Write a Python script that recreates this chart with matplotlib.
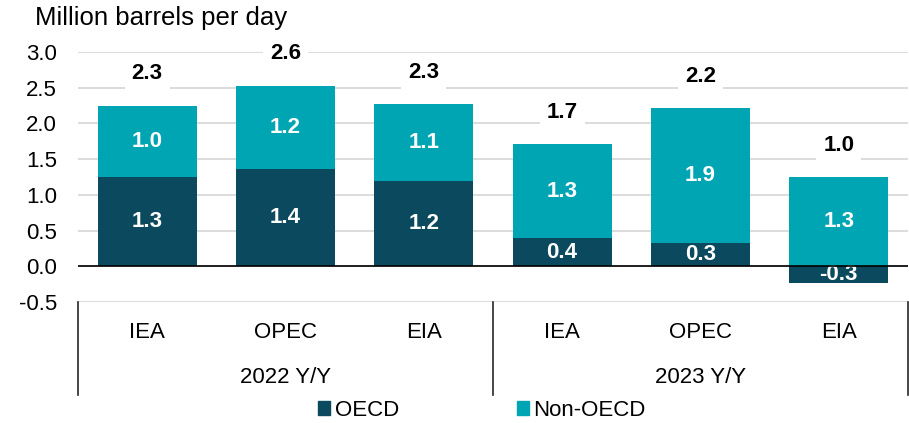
import matplotlib.pyplot as plt
from matplotlib.patches import Patch
import numpy as np

plt.rcParams['font.family'] = ['Liberation Sans', 'DejaVu Sans']

# data
sources = ['IEA', 'OPEC', 'EIA', 'IEA', 'OPEC', 'EIA']
groups = ['2022 Y/Y', '2023 Y/Y']
oecd = [1.25, 1.36, 1.19, 0.39, 0.32, -0.24]
non_oecd = [1.00, 1.17, 1.08, 1.32, 1.89, 1.25]
oecd_labels = ['1.3', '1.4', '1.2', '0.4', '0.3', '-0.3']
non_oecd_labels = ['1.0', '1.2', '1.1', '1.3', '1.9', '1.3']
total_labels = ['2.3', '2.6', '2.3', '1.7', '2.2', '1.0']

c_oecd = '#0b4a5e'
c_non = '#00a5b4'
fs = 16

fig = plt.figure(figsize=(9.09, 4.23), dpi=100)
ax = fig.add_axes([0.0858, 0.286, 0.913, 0.591])

x = np.arange(len(sources))
w = 0.715
# non-OECD stacks on top of positive OECD, starts at zero otherwise
bottoms = [max(v, 0) for v in oecd]
ax.bar(x, oecd, w, color=c_oecd, zorder=2)
ax.bar(x, non_oecd, w, bottom=bottoms, color=c_non, zorder=2)

for i in range(len(x)):
    ax.text(x[i], oecd[i] / 2, oecd_labels[i], ha='center', va='center',
            color='white', fontsize=fs, fontweight='bold', zorder=3)
    ax.text(x[i], bottoms[i] + non_oecd[i] / 2, non_oecd_labels[i], ha='center', va='center',
            color='white', fontsize=fs, fontweight='bold', zorder=3)
    top = bottoms[i] + non_oecd[i]
    ax.annotate(total_labels[i], (x[i], top), xytext=(0, 23), textcoords='offset points',
                ha='center', va='center', fontsize=fs, fontweight='bold', color='black',
                bbox=dict(facecolor='white', edgecolor='none', pad=5), zorder=4)

ax.set_xlim(-0.5, 5.5)
ax.set_ylim(-0.5, 3.0)
ax.set_yticks(np.arange(-0.5, 3.01, 0.5))
ax.set_yticklabels(['%.1f' % v for v in np.arange(-0.5, 3.01, 0.5)])
ax.tick_params(axis='y', length=0, labelsize=fs, pad=15)
ax.set_xticks([])
ax.grid(axis='y', color='#d9d9d9', linewidth=1.3, zorder=0)
ax.axhline(0, color='black', linewidth=1.2, zorder=3)
for s in ax.spines.values():
    s.set_visible(False)

# category axis below the plot
for i, name in enumerate(sources):
    ax.text(x[i], -0.12, name, transform=ax.get_xaxis_transform(),
            ha='center', va='center', fontsize=fs)
for j, g in enumerate(groups):
    ax.text(1 + 3 * j, -0.30, g, transform=ax.get_xaxis_transform(),
            ha='center', va='center', fontsize=fs)
for xv in [-0.5, 2.5, 5.5]:
    ax.plot([xv, xv], [0, -0.372], transform=ax.get_xaxis_transform(),
            color='#262626', linewidth=1.2, clip_on=False)

fig.text(0.038, 0.957, 'Million barrels per day', fontsize=18.5, va='center')

handles = [Patch(color=c_oecd), Patch(color=c_non)]
fig.legend(handles, ['OECD', 'Non-OECD'], loc='center', bbox_to_anchor=(0.53, 0.03),
           ncol=2, frameon=False, fontsize=fs, handlelength=0.55, handleheight=0.6,
           handletextpad=0.2, columnspacing=5.3)

fig.savefig('out.png', dpi=100)
